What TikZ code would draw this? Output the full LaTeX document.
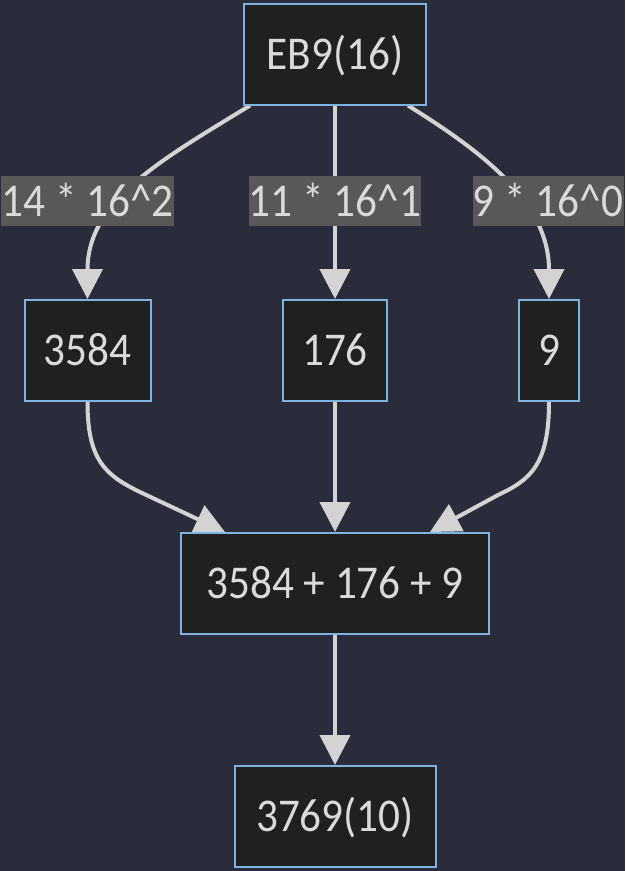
\documentclass[tikz,border=0pt]{standalone}
\usepackage{graphicx}
\usepackage{fontspec}
\setmainfont{Carlito}
\usetikzlibrary{arrows.meta}
\pgfdeclarelayer{edgelayer}
\pgfsetlayers{edgelayer,main}
\definecolor{bgcol}{HTML}{2B2C3B}
\definecolor{nodefill}{HTML}{1F2020}
\definecolor{nodeborder}{HTML}{80B2E0}
\definecolor{lblfill}{HTML}{585858}
\definecolor{txtcol}{HTML}{DADADA}
\definecolor{edgecol}{HTML}{D3D3D3}
\newcommand{\tx}[1]{\scalebox{0.92}[1]{#1}}
\begin{document}
\begin{tikzpicture}[x=1pt,y=-1pt,
  box/.style={draw=nodeborder, line width=2pt, fill=nodefill, text=txtcol,
    inner sep=0pt, minimum height=101pt, text height=30pt, text depth=0pt,
    font=\fontsize{47}{56}\selectfont},
  lbl/.style={fill=lblfill, text=txtcol, inner sep=0pt, minimum height=50pt,
    text height=30pt, text depth=0pt, font=\fontsize{47}{56}\selectfont},
  edge/.style={draw=edgecol, line width=4pt, -{Triangle[length=30pt,width=30pt]}}]
\useasboundingbox (0,0) rectangle (625,871);
\begin{pgfonlayer}{edgelayer}
\fill[bgcol] (0,0) rectangle (625,871);
\end{pgfonlayer}

% nodes
\node[box, minimum width=182pt] (A) at (335,54) {\tx{EB9(16)}};
\node[box, minimum width=126pt] (B) at (87.5,350.5) {\tx{3584}};
\node[box, minimum width=104pt] (C) at (335,350.5) {\tx{176}};
\node[box, minimum width=60pt]  (D) at (549,350.5) {\tx{9}};
\node[box, minimum width=308pt] (E) at (335,583.5) {\tx{3584 + 176 + 9}};
\node[box, minimum width=201pt] (F) at (335,816.5) {\tx{3769(10)}};

% edge labels
\node[lbl, minimum width=173pt] (L1) at (87.5,201) {\tx{14 * 16\^{}2}};
\node[lbl, minimum width=172pt] (L2) at (335,201) {\tx{11 * 16\^{}1}};
\node[lbl, minimum width=151pt] (L3) at (548,201) {\tx{9 * 16\^{}0}};

\coordinate (bk) at (140,492);
\coordinate (dk) at (498,495);

\begin{pgfonlayer}{edgelayer}
\draw[edge] ([xshift=-85pt]A.south) .. controls +(-90,55) and +(0,-98) .. (B.north);
\draw[edge] (A.south) -- (C.north);
\draw[edge] ([xshift=73pt]A.south) .. controls +(72,45) and +(0,-98) .. (D.north);
\draw[edge] (B.south) .. controls +(0,58) and +(-35,-17) .. (bk) -- ([xshift=-110pt]E.north);
\draw[edge] (C.south) -- (E.north);
\draw[edge] (D.south) .. controls +(0,63) and +(32,-15) .. (dk) -- ([xshift=95pt]E.north);
\draw[edge] (E.south) -- (F.north);
\end{pgfonlayer}
\end{tikzpicture}
\end{document}
